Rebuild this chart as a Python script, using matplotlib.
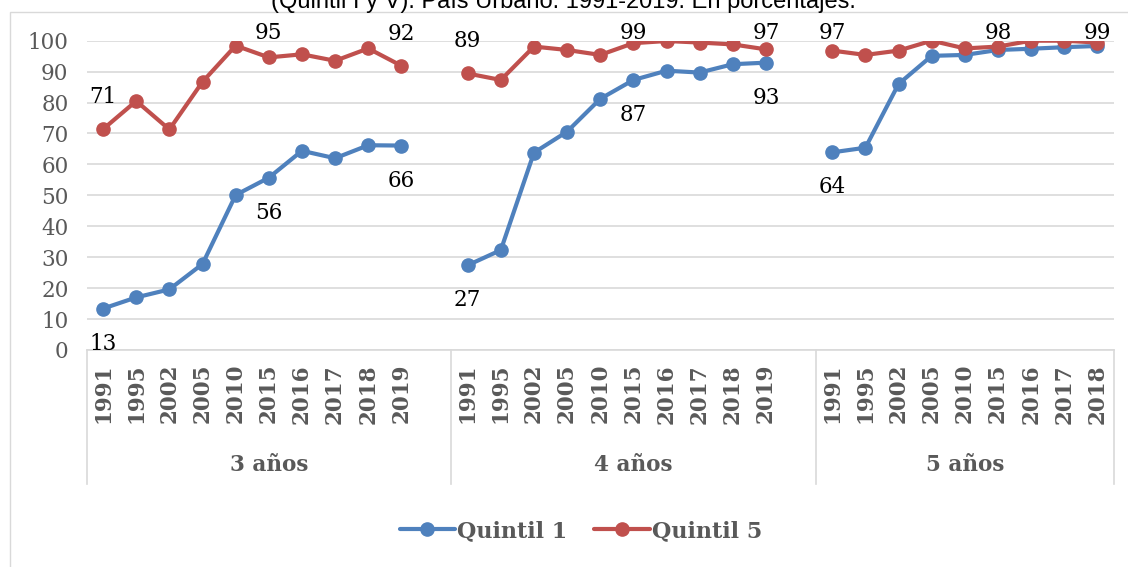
import numpy as np
import matplotlib
matplotlib.use('Agg')
import matplotlib.pyplot as plt
from matplotlib.patches import Rectangle

# Data
groups = ['3 años', '4 años', '5 años']
years_long = ['1991', '1995', '2002', '2005', '2010', '2015', '2016', '2017', '2018', '2019']
years_short = ['1991', '1995', '2002', '2005', '2010', '2015', '2016', '2017', '2018']

q1_3 = [13.4, 17.0, 19.6, 27.8, 50.1, 55.7, 64.4, 62.0, 66.2, 66.1]
q5_3 = [71.4, 80.5, 71.3, 86.7, 98.4, 94.6, 95.6, 93.5, 97.5, 91.9]
q1_4 = [27.4, 32.3, 63.8, 70.6, 81.2, 87.3, 90.3, 89.7, 92.4, 92.9]
q5_4 = [89.4, 87.3, 98.1, 97.0, 95.4, 99.2, 99.9, 99.4, 98.8, 97.2]
q1_5 = [63.9, 65.4, 86.0, 95.1, 95.4, 97.0, 97.4, 97.9, 98.3]
q5_5 = [96.8, 95.4, 96.8, 100.0, 97.5, 98.1, 100.0, 100.0, 99.4]

# points that carry a data label (index within each group)
q1_labels = [[0, 5, 9], [0, 5, 9], [0]]
q5_labels = [[0, 5, 9], [0, 5, 9], [0, 5, 8]]

title = '(Quintil I y V). País Urbano. 1991-2019. En porcentajes.'

BLUE = '#4F81BD'
RED = '#C0504D'
GRAY = '#595959'
LIGHT = '#D9D9D9'
SERIF = 'DejaVu Serif'

# Build the category axis: the first two groups end with an empty slot
tick_labels = years_long + [''] + years_long + [''] + years_short
q1 = q1_3 + [np.nan] + q1_4 + [np.nan] + q1_5
q5 = q5_3 + [np.nan] + q5_4 + [np.nan] + q5_5
x = np.arange(len(tick_labels))
starts = [0, len(years_long) + 1, 2 * (len(years_long) + 1)]
sizes = [len(years_long) + 1, len(years_long) + 1, len(years_short)]

fig = plt.figure(figsize=(11.28, 5.67), dpi=100)
ax = fig.add_axes([86.5 / 1128, 1 - 350 / 567, (1114 - 86.5) / 1128, (350 - 40.7) / 567])

# outer chart frame (only left/top edges visible in the crop)
fig.patches.append(Rectangle((10 / 1128, -0.2), 1.2, 1.2 - 12 / 567, transform=fig.transFigure,
                             fill=False, edgecolor=LIGHT, linewidth=1.0))

ax.plot(x, q1, color=BLUE, lw=3, marker='o', ms=9.5, label='Quintil 1', solid_capstyle='round')
ax.plot(x, q5, color=RED, lw=3, marker='o', ms=9.5, label='Quintil 5', solid_capstyle='round')

ax.set_xlim(-0.5, len(tick_labels) - 0.5)
ax.set_ylim(0, 100)
ax.set_yticks(range(0, 101, 10))
ax.yaxis.grid(True, color=LIGHT, lw=1.2)
ax.set_axisbelow(True)
for s in ['top', 'right', 'left']:
    ax.spines[s].set_visible(False)
ax.spines['bottom'].set_color(LIGHT)
ax.spines['bottom'].set_linewidth(1.2)

ax.tick_params(axis='y', length=0, pad=13, labelcolor=GRAY, labelsize=15.5)
for t in ax.get_yticklabels():
    t.set_family(SERIF)
ax.set_xticks(x)
ax.set_xticklabels(tick_labels, rotation=90, family=SERIF, fontweight='bold',
                   fontsize=15.5, color=GRAY)
ax.tick_params(axis='x', length=0, pad=10)

# group dividers and group names
xt = ax.get_xaxis_transform()
for st, n, g in zip(starts, sizes, groups):
    ax.plot([st - 0.5, st - 0.5], [0, -0.433], transform=xt, color=LIGHT, lw=1.2, clip_on=False)
    ax.text(st + (n - 1) / 2, -(465 - 350) / 309.3, g, transform=xt, ha='center', va='center',
            family=SERIF, fontweight='bold', fontsize=15.5, color=GRAY)
ax.plot([x[-1] + 0.5] * 2, [0, -0.433], transform=xt, color=LIGHT, lw=1.2, clip_on=False)

# data labels
for st, idxs in zip(starts, q5_labels):
    for i in idxs:
        v = q5[st + i]
        ax.text(st + i, min(v + 10.4, 102.5), f'{v:.0f}', ha='center', va='center',
                family=SERIF, fontsize=15.5, color='black', clip_on=False)
for st, idxs in zip(starts, q1_labels):
    for i in idxs:
        v = q1[st + i]
        ax.text(st + i, v - 11.3, f'{v:.0f}', ha='center', va='center',
                family=SERIF, fontsize=15.5, color='black', clip_on=False)

fig.text(563 / 1128, 1 - 8 / 567, title, ha='center', va='baseline',
         family='Liberation Sans', fontsize=17, color='black')

fig.legend(loc='center', bbox_to_anchor=(581 / 1128, 1 - 531 / 567), ncol=2, frameon=False,
           handlelength=2.5, handletextpad=0.1, columnspacing=1.2,
           prop={'family': SERIF, 'weight': 'bold', 'size': 16}, labelcolor=GRAY)

fig.savefig('out.png', dpi=100)
